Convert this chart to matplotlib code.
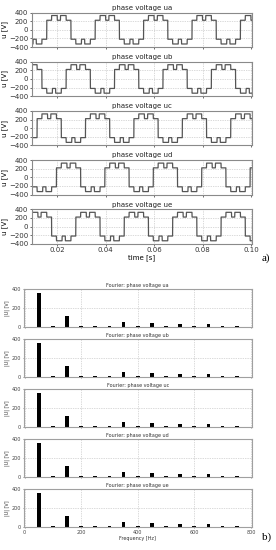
import matplotlib
matplotlib.use("Agg")
import matplotlib.pyplot as plt
import numpy as np

# Data: one period of the stepped phase voltage (degrees from rising zero crossing)
step_angles = [0, 36, 78, 102, 144, 180, 216, 258, 282, 324, 360]
step_levels = [220, 330, 220, 330, 220, -220, -330, -220, -330, -220]
period = 0.02
t_rise = 0.0156  # rising edge of ua
phases = ["ua", "ub", "uc", "ud", "ue"]
phase_delays = [0.0, 0.008, 0.016, 0.004, 0.012]

# Fourier spectra (Hz, |U|)
freqs = [50, 100, 150, 200, 250, 300, 350, 400, 450, 500, 550, 600, 650, 700, 750]
amps = {
    "ua": [355, 2, 118, 2, 2, 2, 50, 2, 38, 2, 32, 2, 29, 2, 2],
    "ub": [355, 2, 118, 2, 2, 2, 50, 2, 38, 2, 32, 2, 29, 2, 2],
    "uc": [355, 2, 118, 2, 2, 2, 50, 2, 38, 2, 32, 2, 29, 2, 2],
    "ud": [355, 2, 118, 2, 2, 2, 50, 2, 38, 2, 32, 2, 29, 2, 2],
    "ue": [355, 2, 118, 2, 2, 2, 50, 2, 38, 2, 32, 2, 29, 2, 2],
}

W, H = 276, 550
fig = plt.figure(figsize=(W / 100, H / 100), dpi=100)
plt.rcParams['font.family'] = ['DejaVu Sans']


def px_axes(left, top, right, bottom):
    return fig.add_axes([left / W, 1 - bottom / H, (right - left) / W, (bottom - top) / H])


frame_col = "#8a8a8a"
grid_kw = dict(color="#b5b5b5", linestyle=(0, (1, 1.5)), linewidth=0.5)

# a) time plots
t = np.linspace(0.0094, 0.1004, 6000)
for i, (name, delay) in enumerate(zip(phases, phase_delays)):
    top = 12.5 + 49.2 * i
    ax = px_axes(31.7, top, 252, top + 34.5)
    ang = ((t - t_rise - delay) / period * 360) % 360
    idx = np.searchsorted(step_angles, ang, side="right") - 1
    u = np.array(step_levels)[idx]
    ax.plot(t, u, color="#555555", linewidth=0.9)
    ax.set_xlim(0.0094, 0.1004)
    ax.set_ylim(-400, 400)
    ax.set_yticks([-400, -200, 0, 200, 400])
    ax.set_xticks([0.02, 0.04, 0.06, 0.08, 0.10])
    ax.grid(True, **grid_kw)
    ax.set_title(f"phase voltage {name}", fontsize=5, pad=2, color="#222222")
    ax.set_ylabel("u [V]", fontsize=5, labelpad=1)
    ax.tick_params(labelsize=5, length=1.5, width=0.5, pad=1, colors="#333333")
    for s in ax.spines.values():
        s.set_color(frame_col)
        s.set_linewidth(0.8)
    if i < 4:
        ax.tick_params(labelbottom=False)
    else:
        ax.set_xticklabels(["0.02", "0.04", "0.06", "0.08", "0.10"])
        ax.set_xlabel("time [s]", fontsize=5, labelpad=1)

fig.text(262 / W, 1 - 258 / H, "a)", fontsize=8, family="Liberation Serif", va="center")

# b) Fourier spectra
for i, name in enumerate(phases):
    top = 289 + 50 * i
    ax = px_axes(23.5, top, 252, top + 38)
    ax.bar(freqs, amps[name], width=13, color="black")
    ax.set_xlim(-4, 804)
    ax.set_ylim(-4, 400)
    ax.set_yticks([0, 200, 400])
    ax.set_xticks([0, 200, 400, 600, 800])
    ax.grid(True, **grid_kw)
    ax.set_axisbelow(True)
    ax.set_title(f"Fourier: phase voltage {name}", fontsize=3.5, pad=1.5, color="#333333")
    ax.set_ylabel("|U| [V]", fontsize=3.5, labelpad=1, color="#333333")
    ax.tick_params(labelsize=3.5, length=1, width=0.4, pad=1, colors="#444444")
    for s in ax.spines.values():
        s.set_color("#a0a0a0")
        s.set_linewidth(0.8)
    if i < 4:
        ax.tick_params(labelbottom=False)
    else:
        ax.set_xlabel("Frequency [Hz]", fontsize=3.5, labelpad=1, color="#333333")

fig.text(262 / W, 1 - 537 / H, "b)", fontsize=8, family="Liberation Serif", va="center")

fig.savefig("out.png", dpi=100)
